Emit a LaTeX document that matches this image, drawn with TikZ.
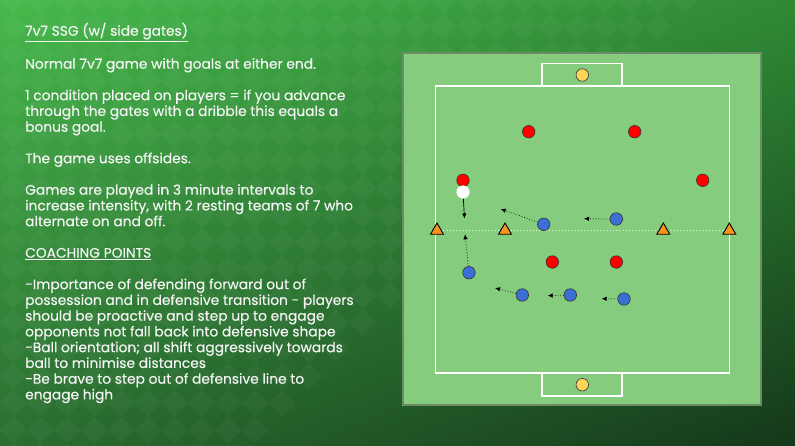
\documentclass[tikz,border=0pt]{standalone}
\usepackage{fontspec}
\setmainfont{Poppins}[UprightFeatures={FakeBold=0.35}]
\usetikzlibrary{shapes.geometric,arrows.meta,shadings}
\definecolor{bgA}{HTML}{47B94C}
\definecolor{bgB}{HTML}{2F8A35}
\definecolor{bgC}{HTML}{2A6E30}
\definecolor{bgD}{HTML}{15381A}
\definecolor{pitch}{HTML}{85CC7E}
\definecolor{pitchedge}{HTML}{6C8C66}
\definecolor{redp}{HTML}{FF0000}
\definecolor{bluep}{HTML}{3C6FD6}
\definecolor{keeper}{HTML}{FFD457}
\definecolor{cone}{HTML}{F7941D}
\definecolor{txt}{HTML}{F4F4F4}
\tikzset{
  player/.style={circle,draw=black!80,line width=0.6pt,inner sep=0pt,minimum size=12.5pt},
  red/.style={player,fill=redp},
  blue/.style={player,fill=bluep},
  gk/.style={player,fill=keeper},
  ballp/.style={player,fill=white,draw=white},
  conep/.style={regular polygon,regular polygon sides=3,draw=black,line width=0.9pt,fill=cone,inner sep=0pt,minimum size=15pt},
  run/.style={black,line width=0.7pt,dotted,-{Latex[length=5pt,width=4.5pt]}},
  pass/.style={black,line width=0.7pt,-{Latex[length=5pt,width=4.5pt]}},
  pline/.style={white,line width=1.3pt},
}
\begin{document}
\begin{tikzpicture}[x=1pt,y=-1pt]
\useasboundingbox (0,0) rectangle (795,445);
% background
\shade[upper left=bgA,upper right=bgB,lower left=bgC,lower right=bgD] (0,0) rectangle (795,445);
\begin{scope}
\clip (0,0) rectangle (795,445);
\begin{scope}[rotate=45]
\foreach \i in {-25,...,25}{
  \foreach \j in {-25,...,25}{
    \pgfmathtruncatemacro{\pp}{mod(\i+\j+100,2)}
    \ifnum\pp=0
      \fill[white,opacity=0.035] (\i*19,\j*19) rectangle ++(19,19);
    \fi
  }
}
\end{scope}
\end{scope}
% text
\node[anchor=north west,text=txt,align=left,font=\fontsize{13.8}{15.75}\selectfont,inner sep=0pt] (notes) at (25,22.5) {%
\underline{7v7 SSG (w/ side gates)}\\[15.75pt]
Normal 7v7 game with goals at either end.\\[15.75pt]
1 condition placed on players = if you advance\\
through the gates with a dribble this equals a\\
bonus goal.\\[15.75pt]
The game uses offsides.\\[15.75pt]
Games are played in 3 minute intervals to\\
increase intensity, with 2 resting teams of 7 who\\
alternate on and off.\\[15.75pt]
\underline{COACHING POINTS}\\[15.75pt]
-Importance of defending forward out of\\
possession and in defensive transition - players\\
should be proactive and step up to engage\\
opponents not fall back into defensive shape\\
-Ball orientation; all shift aggressively towards\\
ball to minimise distances\\
-Be brave to step out of defensive line to\\
engage high};
% pitch
\fill[pitch,draw=pitchedge,line width=1.2pt] (403,53) rectangle (761,405);
\draw[pline] (435.7,86) rectangle (729.3,373);
\draw[pline] (542,86) -- (542,63.7) -- (622,63.7) -- (622,86);
\draw[pline] (542,373) -- (542,396) -- (622,396) -- (622,373);
% halfway dotted line
\coordinate (l1) at (437,230);
\coordinate (l2) at (729.3,230);
\draw[white,line width=1pt,dash pattern=on 1pt off 2.2pt,opacity=0.85] (l1) -- (l2);
% cones
\node[conep] (c1) at (437,230.5) {};
\node[conep] (c2) at (505,230.5) {};
\node[conep] (c3) at (663.3,230.5) {};
\node[conep] (c4) at (729.3,230.5) {};
% keepers
\node[gk] (gk1) at (582.3,75) {};
\node[gk] (gk2) at (582.3,384.7) {};
% red team
\node[red] (r1) at (528.7,131.7) {};
\node[red] (r2) at (634.7,131.7) {};
\node[red] (r3) at (463,180.3) {};
\node[red] (r4) at (702.7,180.3) {};
\node[red] (r5) at (552.3,262) {};
\node[red] (r6) at (616.3,262) {};
% ball
\node[ballp] (ball) at (463,192) {};
% blue team
\node[blue] (b1) at (543.7,224.3) {};
\node[blue] (b2) at (616.3,219) {};
\node[blue] (b3) at (469,272.7) {};
\node[blue] (b4) at (522.3,295) {};
\node[blue] (b5) at (570.3,295) {};
\node[blue] (b6) at (624,299) {};
% movement targets
\coordinate (tball) at (464.5,218.5);
\coordinate (t1) at (500.7,209);
\coordinate (t2) at (584,218.7);
\coordinate (t3) at (465,234.3);
\coordinate (t4) at (495,288);
\coordinate (t5) at (547.7,295.7);
\coordinate (t6) at (601.7,298.7);
\draw[pass] (ball) -- (tball);
\draw[run] (b1) -- (t1);
\draw[run] (b2) -- (t2);
\draw[run] (b3) -- (t3);
\draw[run] (b4) -- (t4);
\draw[run] (b5) -- (t5);
\draw[run] (b6) -- (t6);
\end{tikzpicture}
\end{document}
